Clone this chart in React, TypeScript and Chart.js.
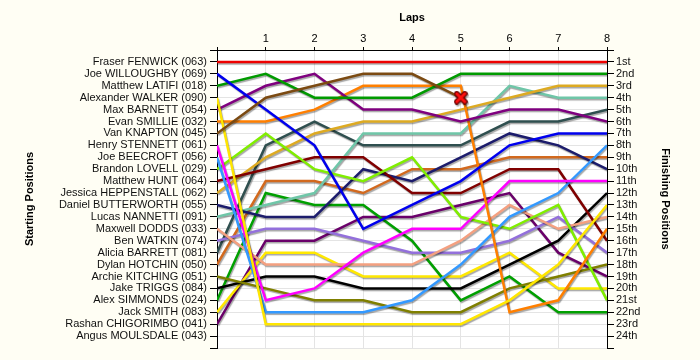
import React, { useEffect, useRef } from 'react';
import { Chart, registerables } from 'chart.js';

Chart.register(...registerables);

// ---- data ----
const laps = [0, 1, 2, 3, 4, 5, 6, 7, 8];

const starters = [
  'Fraser FENWICK (063)', 'Joe WILLOUGHBY (069)', 'Matthew LATIFI (018)', 'Alexander WALKER (090)',
  'Max BARNETT (054)', 'Evan SMILLIE (032)', 'Van KNAPTON (045)', 'Henry STENNETT (061)',
  'Joe BEECROFT (056)', 'Brandon LOVELL (029)', 'Matthew HUNT (064)', 'Jessica HEPPENSTALL (062)',
  'Daniel BUTTERWORTH (055)', 'Lucas NANNETTI (091)', 'Maxwell DODDS (033)', 'Ben WATKIN (074)',
  'Alicia BARRETT (081)', 'Dylan HOTCHIN (050)', 'Archie KITCHING (051)', 'Jake TRIGGS (084)',
  'Alex SIMMONDS (024)', 'Jack SMITH (083)', 'Rashan CHIGORIMBO (041)', 'Angus MOULSDALE (043)',
];

const finishLabels = [
  '1st', '2nd', '3rd', '4th', '5th', '6th', '7th', '8th', '9th', '10th', '11th', '12th',
  '13th', '14th', '15th', '16th', '17th', '18th', '19th', '20th', '21st', '22nd', '23rd', '24th',
];

const fenwick = [1, 1, 1, 1, 1, 1, 1, 1, 1];
const willoughby = [2, 5, 8, 15, 13, 11, 8, 7, 7];
const latifi = [3, 2, 4, 4, 4, 2, 2, 2, 2];
const walker = [4, 23, 23, 23, 23, 23, 21, 18, 13];
const barnett = [5, 3, 2, 5, 5, 6, 5, 5, 6];
const smillie = [6, 6, 5, 3, 3, 3, 22, 21, 15];
const knapton = [7, 4, 3, 2, 2, 4];
const stennett = [8, 21, 20, 17, 15, 15, 11, 11, 11];
const beecroft = [9, 22, 22, 22, 21, 18, 14, 12, 8];
const lovell = [10, 7, 10, 11, 9, 14, 15, 13, 21];
const hunt = [11, 10, 9, 9, 12, 12, 10, 10, 16];
const heppenstall = [12, 9, 7, 6, 6, 5, 4, 3, 3];
const butterworth = [13, 14, 14, 10, 11, 9, 7, 8, 10];
const nannetti = [14, 13, 12, 7, 7, 7, 3, 4, 4];
const dodds = [15, 18, 18, 18, 18, 16, 13, 15, 14];
const watkin = [16, 15, 15, 16, 17, 17, 16, 14, 17];
const barrett = [17, 8, 6, 8, 8, 8, 6, 6, 5];
const hotchin = [18, 11, 11, 12, 10, 10, 9, 9, 9];
const kitching = [19, 20, 21, 21, 22, 22, 20, 19, 18];
const triggs = [20, 19, 19, 20, 20, 20, 18, 16, 12];
const simmonds = [21, 12, 13, 13, 16, 21, 19, 22, 22];
const smith = [22, 17, 17, 19, 19, 19, 17, 20, 20];
const chigorimbo = [23, 16, 16, 14, 14, 13, 12, 17, 19];

const series: { name: string; pos: number[]; color: string; retired?: boolean }[] = [
  { name: starters[0], pos: fenwick, color: '#EE0000' },
  { name: starters[1], pos: willoughby, color: '#0000EE' },
  { name: starters[2], pos: latifi, color: '#009A00' },
  { name: starters[3], pos: walker, color: '#FFE600' },
  { name: starters[4], pos: barnett, color: '#7F007F' },
  { name: starters[5], pos: smillie, color: '#FF7F00' },
  { name: starters[6], pos: knapton, color: '#7B4A12', retired: true },
  { name: starters[7], pos: stennett, color: '#FF00FF' },
  { name: starters[8], pos: beecroft, color: '#3399FF' },
  { name: starters[9], pos: lovell, color: '#80EE00' },
  { name: starters[10], pos: hunt, color: '#800000' },
  { name: starters[11], pos: heppenstall, color: '#DDAA22' },
  { name: starters[12], pos: butterworth, color: '#1C1C6C' },
  { name: starters[13], pos: nannetti, color: '#6FC6A8' },
  { name: starters[14], pos: dodds, color: '#F4A080' },
  { name: starters[15], pos: watkin, color: '#9370DB' },
  { name: starters[16], pos: barrett, color: '#2F4F4F' },
  { name: starters[17], pos: hotchin, color: '#D2691E' },
  { name: starters[18], pos: kitching, color: '#7F7F00' },
  { name: starters[19], pos: triggs, color: '#000000' },
  { name: starters[20], pos: simmonds, color: '#00A000' },
  { name: starters[21], pos: smith, color: '#FFE800' },
  { name: starters[22], pos: chigorimbo, color: '#6A006A' },
];

function makeCross(): HTMLCanvasElement {
  const c = document.createElement('canvas');
  c.width = 14;
  c.height = 14;
  const g = c.getContext('2d')!;
  g.lineCap = 'round';
  const draw = () => {
    g.beginPath();
    g.moveTo(3, 3);
    g.lineTo(11, 11);
    g.moveTo(11, 3);
    g.lineTo(3, 11);
    g.stroke();
  };
  g.strokeStyle = '#6A0000';
  g.lineWidth = 5.5;
  draw();
  g.strokeStyle = '#FF1010';
  g.lineWidth = 3;
  draw();
  return c;
}

const bgPlugin = {
  id: 'bgPlugin',
  beforeDraw(chart: any) {
    const { ctx, chartArea } = chart;
    ctx.save();
    ctx.fillStyle = '#FFFEF4';
    ctx.fillRect(0, 0, chart.width, chart.height);
    ctx.fillStyle = '#FFFFFF';
    ctx.fillRect(chartArea.left, chartArea.top, chartArea.right - chartArea.left, chartArea.bottom - chartArea.top);
    ctx.restore();
  },
  beforeDatasetsDraw(chart: any) {
    const ctx = chart.ctx;
    ctx.save();
    ctx.shadowColor = 'rgba(0,0,0,0.35)';
    ctx.shadowOffsetX = 1;
    ctx.shadowOffsetY = 1.5;
    ctx.shadowBlur = 1;
  },
  afterDatasetsDraw(chart: any) {
    chart.ctx.restore();
  },
};

const allTicks = (s: any) => {
  const t = [];
  for (let v = 0; v <= 25; v++) t.push({ value: v });
  s.ticks = t;
};

export default function App() {
  const ref = useRef<HTMLCanvasElement>(null);

  useEffect(() => {
    const cross = makeCross();
    const font = { family: '"Liberation Sans", Arial, sans-serif', size: 11 };
    const bold = { family: '"Liberation Sans", Arial, sans-serif', size: 11, weight: 'bold' as const };
    const datasets = series.map((s, i) => {
      const last = s.pos.length - 1;
      return {
        label: s.name,
        data: s.pos.map((p, j) => ({ x: laps[j], y: p })),
        borderColor: s.color,
        backgroundColor: s.color,
        borderWidth: 2.5,
        fill: false,
        tension: 0,
        yAxisID: 'y',
        xAxisID: 'x',
        order: s.retired ? -1 : i,
        pointRadius: s.retired ? (c: any) => (c.dataIndex === last ? 5 : 0) : 0,
        pointStyle: s.retired ? (c: any) => (c.dataIndex === last ? cross : 'circle') : 'circle',
        pointHoverRadius: 0,
      };
    });

    const chart = new Chart(ref.current!, {
      type: 'line',
      data: { datasets },
      plugins: [bgPlugin],
      options: {
        animation: false,
        responsive: false,
        events: [],
        layout: { padding: { left: 19, right: 24, top: 7, bottom: 12 } },
        plugins: { legend: { display: false }, tooltip: { enabled: false } },
        scales: {
          x: {
            type: 'linear',
            position: 'top',
            min: 0,
            max: 8,
            afterBuildTicks: (s: any) => {
              s.ticks = laps.map((v) => ({ value: v }));
            },
            afterFit: (s: any) => {
              s.height = 43;
            },
            ticks: {
              callback: (v: any) => (v === 0 ? '' : String(v)),
              font,
              color: '#000',
              padding: 1,
              maxRotation: 0,
              autoSkip: false,
            },
            grid: { color: '#E4E4E4', tickColor: '#000', tickLength: 3, lineWidth: 1 },
            border: { color: '#000', width: 1 },
            title: { display: true, text: 'Laps', font: bold, color: '#000', padding: 4 },
          },
          y: {
            type: 'linear',
            position: 'left',
            reverse: true,
            min: 0,
            max: 25,
            afterBuildTicks: allTicks,
            afterFit: (s: any) => {
              s.width = 198;
            },
            ticks: {
              callback: (v: any) => starters[v - 1] ?? '',
              font,
              color: '#111',
              padding: 3,
              autoSkip: false,
            },
            grid: { color: '#E4E4E4', tickColor: '#000', tickLength: 7 },
            border: { color: '#000', width: 1 },
            title: { display: true, text: 'Starting Positions', font: bold, color: '#000', padding: 4 },
          },
          y2: {
            type: 'linear',
            position: 'right',
            reverse: true,
            min: 0,
            max: 25,
            afterBuildTicks: allTicks,
            afterFit: (s: any) => {
              s.width = 69;
            },
            ticks: {
              callback: (v: any) => finishLabels[v - 1] ?? '',
              font,
              color: '#111',
              padding: 2,
              autoSkip: false,
            },
            grid: { drawOnChartArea: false, tickColor: '#000', tickLength: 7 },
            border: { color: '#000', width: 1 },
            title: { display: true, text: 'Finishing Positions', font: bold, color: '#000', padding: 4 },
          },
        },
      } as any,
    });
    return () => chart.destroy();
  }, []);

  return (
    <div style={{ position: 'fixed', left: 0, top: 0, width: 700, height: 360, background: '#FFFEF4' }}>
      <canvas ref={ref} width={700} height={360} style={{ display: 'block', width: 700, height: 360 }} />
    </div>
  );
}
